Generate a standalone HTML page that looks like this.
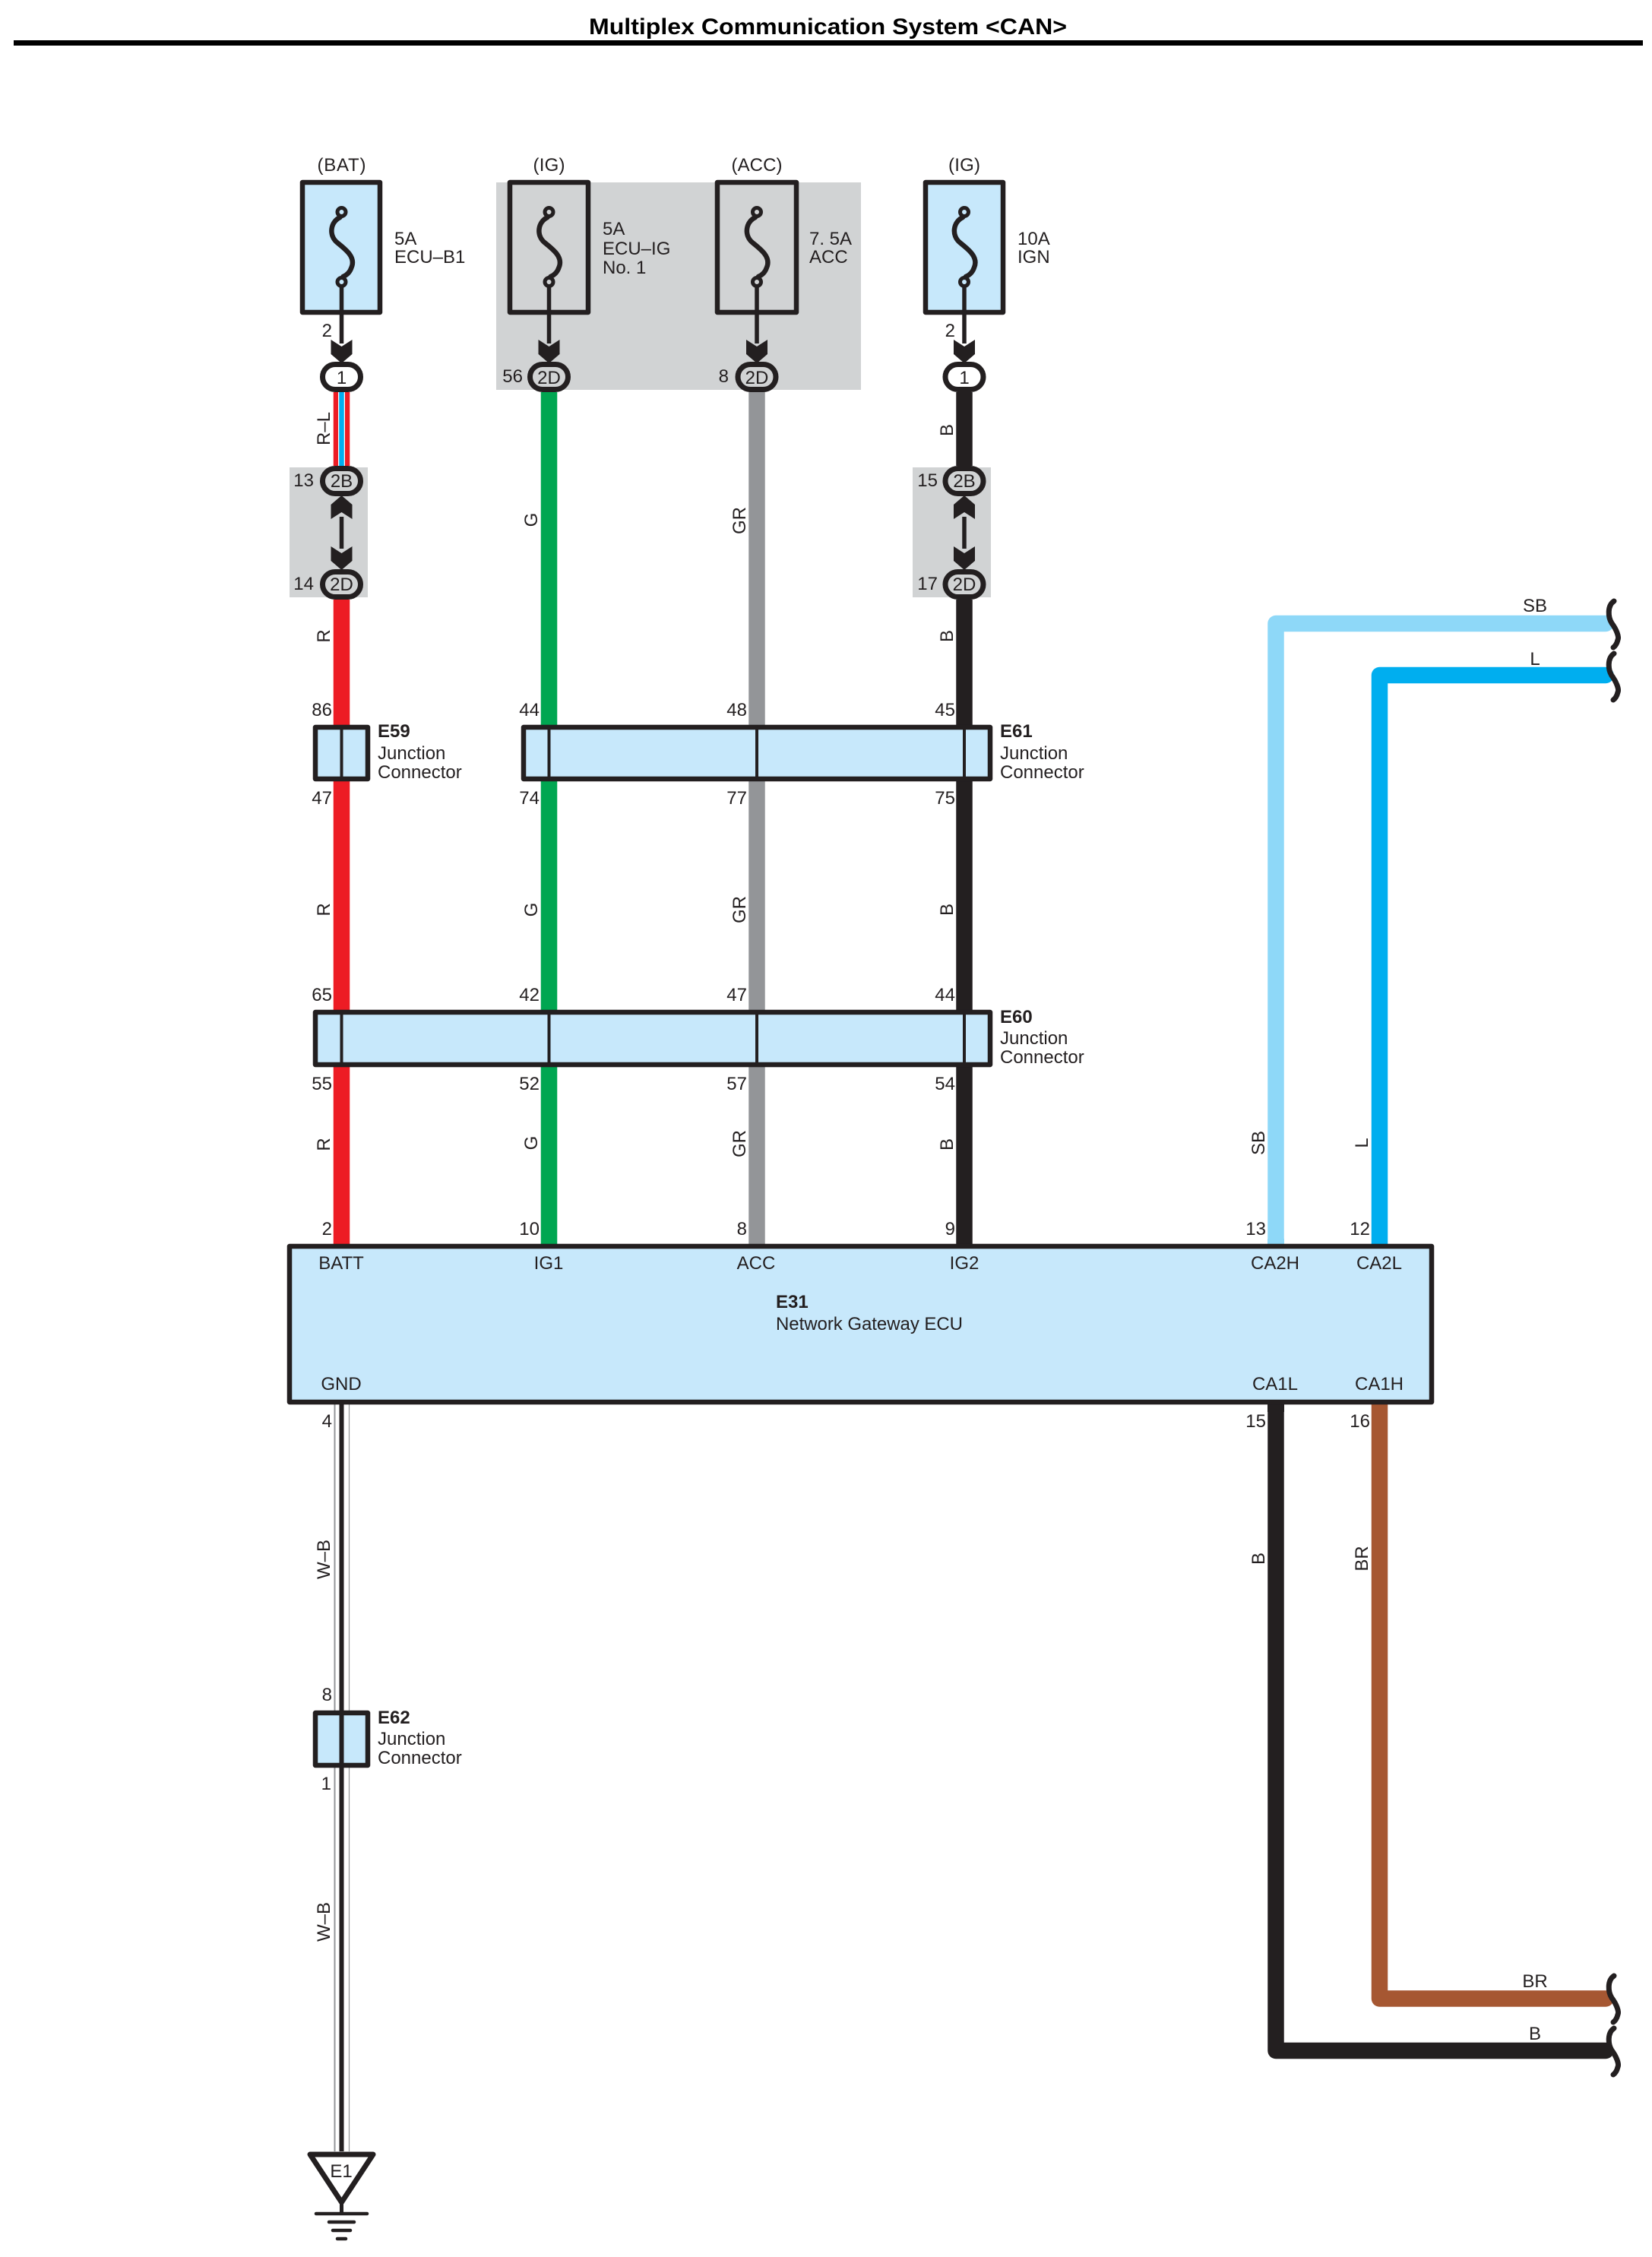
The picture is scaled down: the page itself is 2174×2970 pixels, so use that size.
<!DOCTYPE html>
<html lang="en"><head><meta charset="utf-8"><title>Multiplex Communication System CAN</title>
<style>
html,body{margin:0;padding:0;background:#fff}
svg{display:block}
text{font-family:"Liberation Sans",sans-serif;font-size:24px;fill:#231f20}
.b{font-weight:bold}
.e{text-anchor:end}
.m{text-anchor:middle}
</style></head><body>
<svg xmlns="http://www.w3.org/2000/svg" width="2174" height="2970" viewBox="0 0 2174 2970">
<defs>
<path id="arrowD" d="M-14 0 L0 9 L14 0 V19 L0 31 L-14 19 Z" fill="#231f20"/>
</defs>
<rect width="2174" height="2970" fill="#fff"/>
<text x="775" y="45" class="b" style="font-size:30px;fill:#000" textLength="629" lengthAdjust="spacingAndGlyphs">Multiplex Communication System &lt;CAN&gt;</text>
<rect x="18" y="53" width="2144" height="7" fill="#000"/>

<!-- gray backgrounds -->
<rect x="653" y="240" width="480" height="273" fill="#d1d3d4"/>
<rect x="381" y="615" width="103" height="171" fill="#d1d3d4"/>
<rect x="1201" y="615" width="103" height="171" fill="#d1d3d4"/>

<!-- wires -->
<g fill="none" stroke-width="21.5">
<path d="M449.5 516V613" stroke="#ed1c24"/>
<path d="M449.5 516V613" stroke="#fff" stroke-width="9"/>
<path d="M449.5 516V613" stroke="#00aeef" stroke-width="6.5"/>
<path d="M449.5 789V1637" stroke="#ed1c24"/>
<path d="M722.5 516V1637" stroke="#00a651"/>
<path d="M996 513V1637" stroke="#939598"/>
<path d="M1269 516V613M1269 789V1637" stroke="#231f20"/>
<path d="M1679 1637V820.500H2113" stroke="#8ed8f8" stroke-linejoin="round" stroke-linecap="round"/>
<path d="M1815.5 1637V888.500H2113" stroke="#00aeef" stroke-linejoin="round" stroke-linecap="round"/>
<path d="M1679 1848V2698.500H2113" stroke="#231f20" stroke-linejoin="round" stroke-linecap="round"/>
<path d="M1815.5 1848V2630H2113" stroke="#a65732" stroke-linejoin="round" stroke-linecap="round"/>
</g>
<rect x="1668" y="1630" width="22" height="10" fill="#8ed8f8"/>
<rect x="1805" y="1630" width="21" height="10" fill="#00aeef"/>
<rect x="1668" y="1846" width="22" height="12" fill="#231f20"/>
<rect x="1805" y="1846" width="21" height="12" fill="#a65732"/>
<!-- ground wire -->
<path d="M440.5 1848V2831" stroke="#939598" stroke-width="2" fill="none"/>
<path d="M459.5 1848V2831" stroke="#939598" stroke-width="1.2" fill="none"/>
<path d="M449.5 1848V2831" stroke="#231f20" stroke-width="6" fill="none"/>

<!-- fuses -->
<g stroke="#231f20" stroke-linejoin="round">
<rect x="398" y="240" width="102" height="171" fill="#c7e8fb" stroke-width="6.5"/>
<rect x="671" y="240" width="103" height="171" fill="#d1d3d4" stroke-width="6.5"/>
<rect x="944" y="240" width="104" height="171" fill="#d1d3d4" stroke-width="6.5"/>
<rect x="1218" y="240" width="102" height="171" fill="#c7e8fb" stroke-width="6.5"/>
</g>
<g fill="none" stroke="#231f20" stroke-width="6.5" stroke-linecap="round">
<path d="M447.5 286C434.500 292 432.500 310 443.500 319C454.500 328 468.500 338 462.500 352C460.500 358 456.500 362 451.500 364"/>
<path d="M720.500 286C707.500 292 705.500 310 716.500 319C727.500 328 741.500 338 735.500 352C733.500 358 729.500 362 724.500 364"/>
<path d="M994 286C981 292 979 310 990 319C1001 328 1015 338 1009 352C1007 358 1003 362 998 364"/>
<path d="M1267 286C1254 292 1252 310 1263 319C1274 328 1288 338 1282 352C1280 358 1276 362 1271 364"/>
</g>
<path d="M449.500 376V452M722.500 376V452M996 376V452M1269 376V452M449.500 680V722M1269 680V722" stroke="#231f20" stroke-width="5.500" fill="none"/>
<g stroke="#231f20" stroke-width="5">
<circle cx="449.500" cy="279" r="5.500" fill="#c7e8fb"/><circle cx="449.500" cy="371" r="5.500" fill="#c7e8fb"/>
<circle cx="722.500" cy="279" r="5.500" fill="#d1d3d4"/><circle cx="722.500" cy="371" r="5.500" fill="#d1d3d4"/>
<circle cx="996" cy="279" r="5.500" fill="#d1d3d4"/><circle cx="996" cy="371" r="5.500" fill="#d1d3d4"/>
<circle cx="1269" cy="279" r="5.500" fill="#c7e8fb"/><circle cx="1269" cy="371" r="5.500" fill="#c7e8fb"/>
</g>

<!-- arrowheads -->
<use href="#arrowD" transform="translate(449.500 447)"/>
<use href="#arrowD" transform="translate(722.500 447)"/>
<use href="#arrowD" transform="translate(996 447)"/>
<use href="#arrowD" transform="translate(1269 447)"/>
<use href="#arrowD" transform="translate(449.500 719)"/>
<use href="#arrowD" transform="translate(1269 719)"/>
<use href="#arrowD" transform="translate(449.500 683) scale(1 -1)"/>
<use href="#arrowD" transform="translate(1269 683) scale(1 -1)"/>

<!-- connector ovals -->
<g stroke="#231f20" stroke-width="7">
<rect x="424.500" y="479.500" width="50" height="33" rx="16.500" fill="#fff"/>
<rect x="697.500" y="479.500" width="50" height="33" rx="16.500" fill="#d1d3d4"/>
<rect x="971" y="479.500" width="50" height="33" rx="16.500" fill="#d1d3d4"/>
<rect x="1244" y="479.500" width="50" height="33" rx="16.500" fill="#fff"/>
<rect x="424.500" y="616.500" width="50" height="33" rx="16.500" fill="#d1d3d4"/>
<rect x="424.500" y="752.500" width="50" height="33" rx="16.500" fill="#d1d3d4"/>
<rect x="1244" y="616.500" width="50" height="33" rx="16.500" fill="#d1d3d4"/>
<rect x="1244" y="752.500" width="50" height="33" rx="16.500" fill="#d1d3d4"/>
</g>
<g class="m">
<text x="449.500" y="505" class="m">1</text><text x="722.500" y="505" class="m">2D</text><text x="996" y="505" class="m">2D</text><text x="1269" y="505" class="m">1</text>
<text x="449.500" y="641" class="m">2B</text><text x="449.500" y="777" class="m">2D</text><text x="1269" y="641" class="m">2B</text><text x="1269" y="777" class="m">2D</text>
</g>

<!-- junction connectors -->
<g fill="#c7e8fb" stroke="#231f20" stroke-width="6.500" stroke-linejoin="round">
<rect x="415" y="957" width="69" height="68"/>
<rect x="689" y="957" width="614" height="68"/>
<rect x="415" y="1332" width="888" height="69"/>
<rect x="415" y="2254" width="69" height="69"/>
<rect x="381" y="1640" width="1503" height="205"/>
</g>
<path d="M449.500 957V1025M722.500 957V1025M996 957V1025M1269 957V1025M449.500 1332V1401M722.500 1332V1401M996 1332V1401M1269 1332V1401" stroke="#231f20" stroke-width="4" fill="none"/>
<path d="M449.500 2254V2323" stroke="#231f20" stroke-width="6" fill="none"/>

<!-- ground symbol -->
<path d="M408 2835H491L449.500 2898Z" fill="#fff" stroke="#231f20" stroke-width="7" stroke-linejoin="round"/>
<path d="M449.500 2898V2913" stroke="#231f20" stroke-width="5" fill="none"/>
<path d="M416 2913H483M433 2924H466M438 2935H461M444 2946H455" stroke="#231f20" stroke-width="4.500" stroke-linecap="round" fill="none"/>
<text x="449" y="2865" class="m">E1</text>

<!-- squiggles -->
<g fill="none" stroke="#231f20" stroke-width="7" stroke-linecap="round">
<path d="M2124 791C2115 797 2116 812 2121 820C2127 828 2131 838 2129 842C2128 846 2126 850 2123 852"/>
<path d="M2124 860C2115 866 2116 881 2121 889C2127 897 2131 907 2129 911C2128 915 2126 919 2123 921"/>
<path d="M2124 2600C2115 2606 2116 2621 2121 2629C2127 2637 2131 2647 2129 2651C2128 2655 2126 2659 2123 2661"/>
<path d="M2124 2669C2115 2675 2116 2690 2121 2698C2127 2706 2131 2716 2129 2720C2128 2724 2126 2728 2123 2730"/>
</g>

<!-- top labels -->
<text x="449.500" y="225" class="m" textLength="64">(BAT)</text>
<text x="722.500" y="225" class="m" textLength="42">(IG)</text>
<text x="996" y="225" class="m" textLength="67">(ACC)</text>
<text x="1269" y="225" class="m" textLength="42">(IG)</text>
<text x="519" y="322">5A</text><text x="519" y="346">ECU–B1</text>
<text x="793" y="309">5A</text><text x="793" y="335">ECU–IG</text><text x="793" y="360">No. 1</text>
<text x="1065" y="322">7. 5A</text><text x="1065" y="346">ACC</text>
<text x="1339" y="322">10A</text><text x="1339" y="346">IGN</text>

<!-- pin numbers -->
<g>
<text x="437" y="443" class="e">2</text><text x="1257" y="443" class="e">2</text>
<text x="688" y="503" class="e">56</text><text x="959" y="503" class="e">8</text>
<text x="413" y="640" class="e">13</text><text x="413" y="776" class="e">14</text>
<text x="1234" y="640" class="e">15</text><text x="1234" y="776" class="e">17</text>

<text x="437" y="942" class="e">86</text><text x="710" y="942" class="e">44</text><text x="983" y="942" class="e">48</text><text x="1257" y="942" class="e">45</text>
<text x="437" y="1058" class="e">47</text><text x="710" y="1058" class="e">74</text><text x="983" y="1058" class="e">77</text><text x="1257" y="1058" class="e">75</text>
<text x="437" y="1317" class="e">65</text><text x="710" y="1317" class="e">42</text><text x="983" y="1317" class="e">47</text><text x="1257" y="1317" class="e">44</text>
<text x="437" y="1434" class="e">55</text><text x="710" y="1434" class="e">52</text><text x="983" y="1434" class="e">57</text><text x="1257" y="1434" class="e">54</text>
<text x="437" y="1625" class="e">2</text><text x="710" y="1625" class="e">10</text><text x="983" y="1625" class="e">8</text><text x="1257" y="1625" class="e">9</text><text x="1666" y="1625" class="e">13</text><text x="1803" y="1625" class="e">12</text>
<text x="437" y="1878" class="e">4</text><text x="1666" y="1878" class="e">15</text><text x="1803" y="1878" class="e">16</text>
<text x="437" y="2238" class="e">8</text><text x="436" y="2355" class="e">1</text>
</g>

<!-- component labels -->
<text x="497" y="970" class="b">E59</text><text x="497" y="999">Junction</text><text x="497" y="1024">Connector</text>
<text x="1316" y="970" class="b">E61</text><text x="1316" y="999">Junction</text><text x="1316" y="1024">Connector</text>
<text x="1316" y="1346" class="b">E60</text><text x="1316" y="1374">Junction</text><text x="1316" y="1399">Connector</text>
<text x="497" y="2268" class="b">E62</text><text x="497" y="2296">Junction</text><text x="497" y="2321">Connector</text>

<text x="449" y="1670" class="m">BATT</text><text x="722" y="1670" class="m">IG1</text><text x="995" y="1670" class="m">ACC</text><text x="1269" y="1670" class="m">IG2</text><text x="1678" y="1670" class="m">CA2H</text><text x="1815" y="1670" class="m">CA2L</text>
<text x="449" y="1829" class="m">GND</text><text x="1678" y="1829" class="m">CA1L</text><text x="1815" y="1829" class="m">CA1H</text>
<text x="1021" y="1721" class="b">E31</text><text x="1021" y="1750" textLength="246">Network Gateway ECU</text>

<!-- wire colour labels -->
<text x="2020" y="805" class="m">SB</text><text x="2020" y="875" class="m">L</text><text x="2020" y="2615" class="m">BR</text><text x="2020" y="2684" class="m">B</text>
<text class="m" transform="translate(434 564) rotate(-90)">R–L</text>
<text class="m" transform="translate(434 837) rotate(-90)">R</text>
<text class="m" transform="translate(434 1197) rotate(-90)">R</text>
<text class="m" transform="translate(434 1506) rotate(-90)">R</text>
<text class="m" transform="translate(707 684) rotate(-90)">G</text>
<text class="m" transform="translate(707 1197) rotate(-90)">G</text>
<text class="m" transform="translate(707 1504) rotate(-90)">G</text>
<text class="m" transform="translate(981 685) rotate(-90)">GR</text>
<text class="m" transform="translate(981 1197) rotate(-90)">GR</text>
<text class="m" transform="translate(981 1505) rotate(-90)">GR</text>
<text class="m" transform="translate(1254 566) rotate(-90)">B</text>
<text class="m" transform="translate(1254 837) rotate(-90)">B</text>
<text class="m" transform="translate(1254 1197) rotate(-90)">B</text>
<text class="m" transform="translate(1254 1506) rotate(-90)">B</text>
<text class="m" transform="translate(1664 1504) rotate(-90)">SB</text>
<text class="m" transform="translate(1800 1504) rotate(-90)">L</text>
<text class="m" transform="translate(1664 2051) rotate(-90)">B</text>
<text class="m" transform="translate(1800 2051) rotate(-90)">BR</text>
<text class="m" transform="translate(434 2052) rotate(-90)">W–B</text>
<text class="m" transform="translate(434 2529) rotate(-90)">W–B</text>
</svg>
</body></html>
